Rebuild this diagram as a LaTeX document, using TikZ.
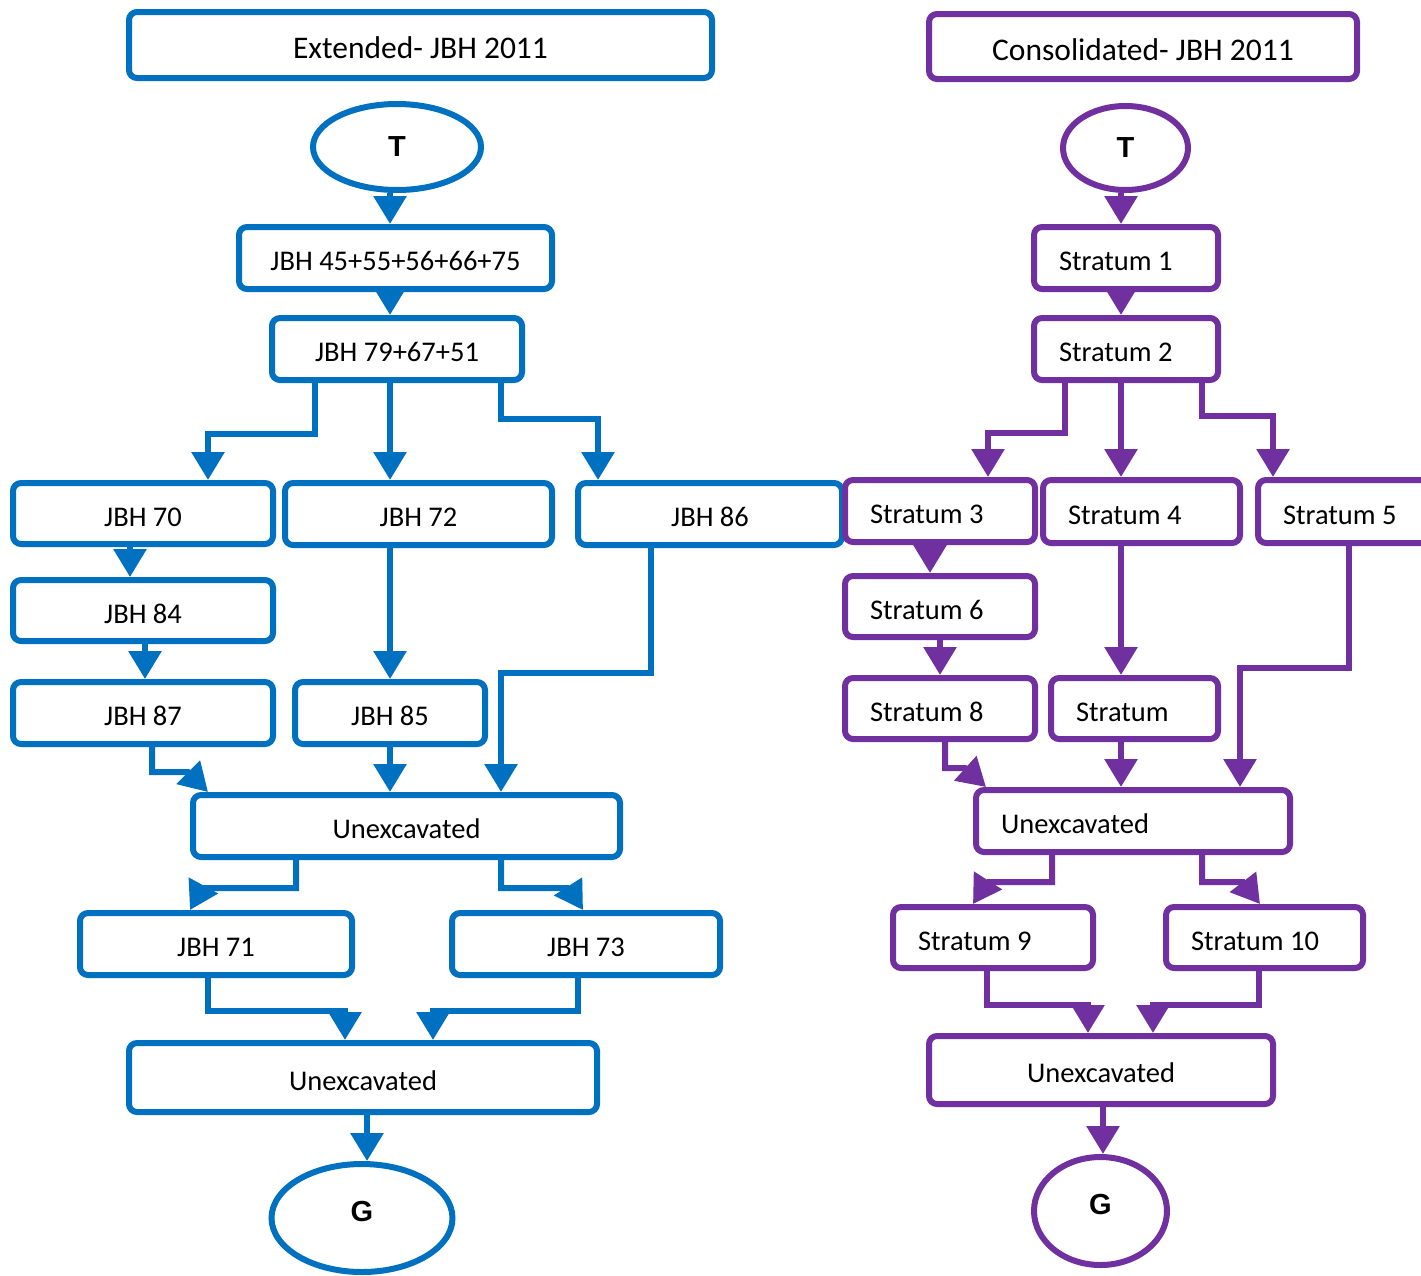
\documentclass[tikz,border=0pt]{standalone}
\usepackage{fontspec}
\setmainfont{Carlito}
\newfontfamily\endfont{Liberation Sans}
\usetikzlibrary{arrows.meta,shapes.geometric}
\definecolor{jbhblue}{HTML}{0070C0}
\definecolor{strpurple}{HTML}{7030A0}

\begin{document}
\begin{tikzpicture}[x=1pt, y=-1pt, line width=6.0pt,
  box/.style={draw, rounded corners=8pt, fill=white, inner sep=0pt,
              text height=25pt, text depth=0pt,
              font=\fontsize{28.5}{34}\selectfont},
  bbox/.style={box, draw=jbhblue},
  pbox/.style={box, draw=strpurple, align=flush left, inner xsep=25pt},
  headbox/.style={text height=27pt, font=\fontsize{31.5}{38}\selectfont},
  endnode/.style={draw, ellipse, inner sep=0pt, fill=white,
                  font=\endfont\bfseries\fontsize{29}{34}\selectfont},
  goalnode/.style={endnode, text height=21pt, text depth=14pt},
  barrow/.style={jbhblue, -{Triangle[width=32pt,length=28pt]}},
  parrow/.style={strpurple, -{Triangle[width=32pt,length=28pt]}}]

  %% ════ 左栏：Extended ════
  \node[bbox, headbox, minimum width=583pt, minimum height=66pt] (headL) at (420.5,45) {Extended- JBH 2011};
  \node[endnode, draw=jbhblue, minimum width=168pt, minimum height=86pt] (tL) at (397,147) {T};
  \node[bbox, minimum width=313pt, minimum height=62pt] (a1) at (395.5,258) {JBH 45+55+56+66+75};
  \node[bbox, minimum width=250pt, minimum height=62pt] (a2) at (397,349) {JBH 79+67+51};
  \node[bbox, minimum width=260pt, minimum height=61pt] (j70) at (143,513.5) {JBH 70};
  \node[bbox, minimum width=267pt, minimum height=62pt] (j72) at (418.5,514) {JBH 72};
  \node[bbox, minimum width=264pt, minimum height=62pt] (j86) at (710,514) {JBH 86};
  \node[bbox, minimum width=260pt, minimum height=61pt] (j84) at (143,610.5) {JBH 84};
  \node[bbox, minimum width=260pt, minimum height=62pt] (j87) at (143,713) {JBH 87};
  \node[bbox, minimum width=190pt, minimum height=62pt] (j85) at (390,713) {JBH 85};
  \node[bbox, minimum width=427pt, minimum height=62pt] (u1) at (406.5,826) {Unexcavated};
  \node[bbox, minimum width=272pt, minimum height=62pt] (j71) at (216,944) {JBH 71};
  \node[bbox, minimum width=268pt, minimum height=62pt] (j73) at (586,944) {JBH 73};
  \node[bbox, minimum width=468pt, minimum height=69pt] (u2) at (363,1077.5) {Unexcavated};
  \node[goalnode, draw=jbhblue, minimum width=181pt, minimum height=108pt] (gL) at (362,1218) {G};

  \draw[barrow] ([xshift=-7pt]tL.south) -- ([xshift=-7pt]tL.south |- a1.north);
  \draw[barrow] ([xshift=-5.5pt]a1.south) -- ([xshift=-7pt]a2.north);
  \draw[barrow] ([xshift=-82pt]a2.south) -- ++(0,51) -| ([xshift=65pt]j70.north);
  \draw[barrow] ([xshift=-7pt]a2.south) -- ([xshift=-7pt]a2.south |- j72.north);
  \draw[barrow] ([xshift=104pt]a2.south) -- ++(0,36) -| ([xshift=-112pt]j86.north);
  \draw[barrow] ([xshift=-13pt]j70.south) -- ([xshift=-13pt]j84.north);
  \draw[barrow] ([xshift=2pt]j84.south) -- ([xshift=2pt]j87.north);
  \draw[barrow] ([xshift=-28.5pt]j72.south) -- (j85.north);
  \draw[barrow] ([xshift=-59pt]j86.south) -- ++(0,125) -| ([xshift=94.5pt]u1.north);
  \draw[barrow] (j85.south) -- (j85.south |- u1.north);
  \draw[barrow] ([xshift=9pt]j87.south) -- ++(0,25) -- ++(36,0) -- ([xshift=-198.5pt]u1.north);
  \draw[barrow] ([xshift=-110.5pt]u1.south) -- ++(0,28) -- ++(-94,0) -- ([xshift=-26pt]j71.north);
  \draw[barrow] ([xshift=94.5pt]u1.south) -- ++(0,28) -- ++(68,0) -- ([xshift=-3pt]j73.north);
  \draw[barrow] ([xshift=-8pt]j71.south) -- ++(0,33) -| ([xshift=-18pt]u2.north);
  \draw[barrow] ([xshift=-8pt]j73.south) -- ++(0,33) -| ([xshift=70pt]u2.north);
  \draw[barrow] ([xshift=4pt]u2.south) -- ([xshift=5pt]gL.north);

  %% ════ 右栏：Consolidated ════
  \node[box, headbox, draw=strpurple, minimum width=428pt, minimum height=65pt] (headR) at (1143,46.5) {Consolidated- JBH 2011};
  \node[endnode, draw=strpurple, minimum width=125pt, minimum height=84pt] (tR) at (1125.5,148) {T};
  \node[pbox, text width=134pt, minimum width=184pt, minimum height=62pt] (s1) at (1126,258) {Stratum 1};
  \node[pbox, text width=134pt, minimum width=184pt, minimum height=62pt] (s2) at (1126,349) {Stratum 2};
  \node[pbox, text width=140pt, minimum width=190pt, minimum height=62pt] (s3) at (940,511) {Stratum 3};
  \node[pbox, text width=147pt, minimum width=197pt, minimum height=63pt] (s4) at (1141.5,511.5) {Stratum 4};
  \node[pbox, text width=140pt, minimum width=190pt, minimum height=63pt] (s5) at (1353,511.5) {Stratum 5};
  \node[pbox, text width=140pt, minimum width=190pt, minimum height=61pt] (s6) at (940,606.5) {Stratum 6};
  \node[pbox, text width=140pt, minimum width=190pt, minimum height=61pt] (s8) at (940,708.5) {Stratum 8};
  \node[pbox, text width=117pt, minimum width=167pt, minimum height=61pt] (s7) at (1134.5,708.5) {Stratum};
  \node[pbox, text width=264pt, minimum width=314pt, minimum height=62pt] (uR1) at (1133,821) {Unexcavated};
  \node[pbox, text width=150pt, minimum width=200pt, minimum height=61pt] (s9) at (993,937.5) {Stratum 9};
  \node[pbox, text width=147pt, minimum width=197pt, minimum height=61pt] (s10) at (1264.5,937.5) {Stratum 10};
  \node[box, draw=strpurple, minimum width=344pt, minimum height=68pt] (uR2) at (1101,1070) {Unexcavated};
  \node[goalnode, draw=strpurple, minimum width=133pt, minimum height=108pt] (gR) at (1100.5,1211) {G};

  \draw[parrow] ([xshift=-4.5pt]tR.south) -- ([xshift=-5pt]s1.north);
  \draw[parrow] ([xshift=-5pt]s1.south) -- ([xshift=-5pt]s2.north);
  \draw[parrow] ([xshift=-61pt]s2.south) -- ++(0,50) -| ([xshift=48pt]s3.north);
  \draw[parrow] ([xshift=-5pt]s2.south) -- ([xshift=-20.5pt]s4.north);
  \draw[parrow] ([xshift=76pt]s2.south) -- ++(0,33) -| ([xshift=-80pt]s5.north);
  \draw[parrow] ([xshift=-10pt]s3.south) -- ([xshift=-10pt]s6.north);
  \draw[parrow] (s6.south) -- (s8.north);
  \draw[parrow] ([xshift=-20.5pt]s4.south) -- ([xshift=-13.5pt]s7.north);
  \draw[parrow] ([xshift=-4pt]s5.south) -- ++(0,122) -| ([xshift=107pt]uR1.north);
  \draw[parrow] ([xshift=-13.5pt]s7.south) -- ([xshift=-12pt]uR1.north);
  \draw[parrow] ([xshift=5pt]s8.south) -- ++(0,26) -- ++(20,0) -- ([xshift=-147pt]uR1.north);
  \draw[parrow] ([xshift=-81pt]uR1.south) -- ++(0,27) -- ++(-65,0) -- ([xshift=-20pt]s9.north);
  \draw[parrow] ([xshift=69pt]uR1.south) -- ++(0,27) -- ++(41,0) -- ([xshift=-4.5pt]s10.north);
  \draw[parrow] ([xshift=-6pt]s9.south) -- ++(0,34) -| ([xshift=-13pt]uR2.north);
  \draw[parrow] ([xshift=-6pt]s10.south) -- ++(0,34) -| ([xshift=52pt]uR2.north);
  \draw[parrow] ([xshift=2pt]uR2.south) -- ([xshift=2.5pt]gR.north);

  % 画布固定为原图大小
  \pgfresetboundingbox
  \path[use as bounding box] (0,0) rectangle (1421,1275);
\end{tikzpicture}
\end{document}
